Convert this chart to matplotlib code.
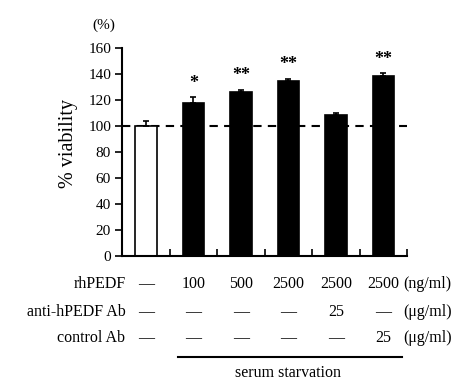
import numpy as np
import matplotlib.pyplot as plt

plt.rcParams['font.family'] = ['Liberation Serif', 'DejaVu Serif']

viability = [100, 118, 126.5, 134.5, 108.5, 138.5]
errors = [3.5, 4, 1.5, 1.5, 1.5, 2]
bar_colors = ['white', 'black', 'black', 'black', 'black', 'black']
stars = ['', '*', '**', '**', '', '**']

row_names = ['rhPEDF', 'anti-hPEDF Ab', 'control Ab']
row_units = ['(ng/ml)', '(\u03bcg/ml)', '(\u03bcg/ml)']
rhpedf = ['\u2014', '100', '500', '2500', '2500', '2500']
anti_ab = ['\u2014', '\u2014', '\u2014', '\u2014', '25', '\u2014']
control_ab = ['\u2014', '\u2014', '\u2014', '\u2014', '\u2014', '25']
rows = [rhpedf, anti_ab, control_ab]

fig = plt.figure(figsize=(4.61, 3.81), dpi=100)
ax = fig.add_axes([0.265, 0.328, 0.618, 0.546])

x = np.arange(len(viability))
ax.bar(x, viability, width=0.45, color=bar_colors, edgecolor='black', linewidth=1.2, zorder=2)
ax.errorbar(x, viability, yerr=[np.zeros(len(errors)), errors], fmt='none',
            ecolor='black', elinewidth=1.2, capsize=2.5, capthick=1.2, zorder=3)
ax.axhline(100, color='black', linestyle=(0, (4, 3)), linewidth=1.5, zorder=1)

for xi, v, e, s in zip(x, viability, errors, stars):
    if s:
        ax.text(xi, v + e + 11, s, ha='center', va='center', fontsize=13, fontweight='bold')

ax.set_xlim(-0.5, 5.5)
ax.set_ylim(0, 160)
ax.set_yticks(np.arange(0, 161, 20))
ax.set_xticks(np.arange(0.5, 5.6, 1))
ax.set_xticklabels([])
ax.tick_params(axis='x', direction='in', length=5, width=1.2)
ax.tick_params(axis='y', direction='out', length=5, width=1.2, labelsize=11, pad=3)
for side in ['top', 'right']:
    ax.spines[side].set_visible(False)
for side in ['left', 'bottom']:
    ax.spines[side].set_linewidth(1.5)

ax.set_ylabel('% viability', fontsize=14.5)
ax.yaxis.set_label_coords(-0.155, 0.54)
ax.text(-0.065, 1.11, '(%)', transform=ax.transAxes, ha='center', va='center', fontsize=11)

tr = ax.get_xaxis_transform()
row_y = [-0.135, -0.269, -0.394]
fs = 11.5
for name, unit, vals, ry in zip(row_names, row_units, rows, row_y):
    ax.text(-0.43, ry, name, transform=tr, ha='right', va='center', fontsize=fs, clip_on=False)
    ax.text(5.42, ry, unit, transform=tr, ha='left', va='center', fontsize=fs, clip_on=False)
    for xi, val in zip(x, vals):
        ax.text(xi, ry, val, transform=tr, ha='center', va='center', fontsize=fs, clip_on=False)

ax.plot([0.68, 5.39], [-0.486, -0.486], transform=tr, color='black', linewidth=1.5, clip_on=False)
ax.text(3.0, -0.5625, 'serum starvation', transform=tr, ha='center', va='center', fontsize=fs, clip_on=False)

fig.savefig('out.png', dpi=100)
